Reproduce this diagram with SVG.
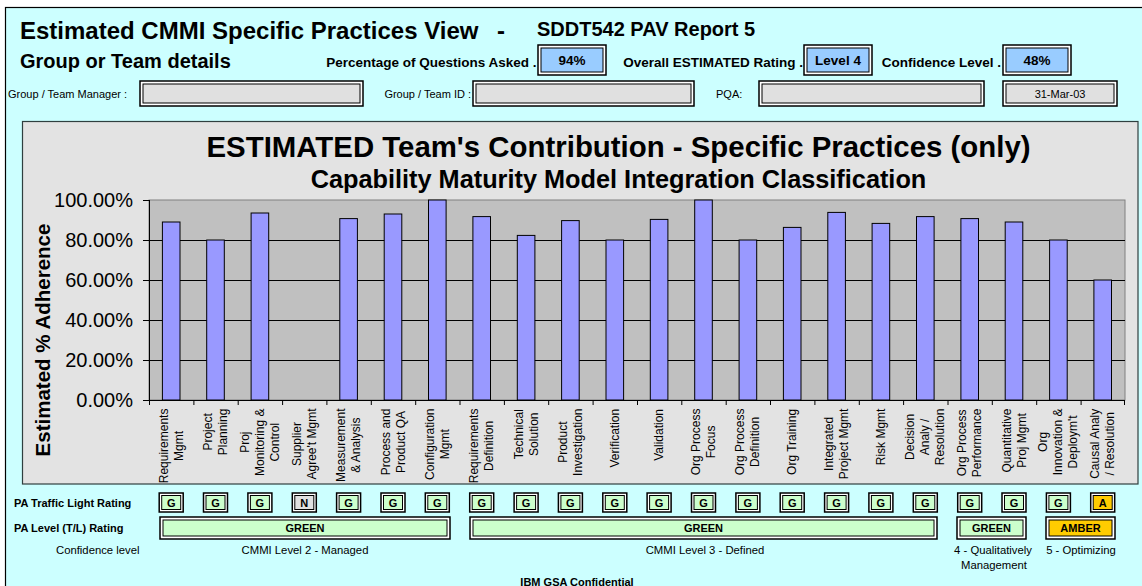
<svg xmlns="http://www.w3.org/2000/svg" width="1142" height="586" viewBox="0 0 1142 586">
<style>
text{font-family:"Liberation Sans",Arial,sans-serif;fill:#000}
.b{font-weight:bold}
.h1{font-size:24px;font-weight:bold}
.h2{font-size:20px;font-weight:bold}
.lab{font-size:13.5px;font-weight:bold}
.sm{font-size:11px}
.ct{font-size:11.3px}
.xl{font-size:12px;text-anchor:middle}
.yl{font-size:20px;text-anchor:end}
.mid{text-anchor:middle}
.end{text-anchor:end}
.ob{fill:#fff;stroke:#000;stroke-width:1.5}
.in{stroke:#000;stroke-width:1}
.gf{fill:#E0E0E0}
.bf{fill:#99CCFF}
.grn{fill:#CCFFCC}
.amb{fill:#FFCC00}
.gry{fill:#E0E0E0}
.bar{fill:#9999FF;stroke:#000;stroke-width:1}
.grid{stroke:#000;stroke-width:1}
.tk{stroke:#000;stroke-width:1}
.tl{font-size:11px;font-weight:bold;text-anchor:middle}
</style>
<rect x="0" y="0" width="1142" height="586" fill="#fff"/>
<rect x="5.5" y="7.5" width="1140" height="582" fill="#CCFFFF" stroke="#000" stroke-width="1.2"/>

<g id="header">
<text class="h1" x="20" y="38.5">Estimated CMMI Specific Practices View</text>
<text class="h1" x="497" y="38.5">-</text>
<text class="h2" x="537" y="36">SDDT542 PAV Report 5</text>
<text class="h2" x="20" y="67.5">Group or Team details</text>
</g>

<g id="pct-asked">
<text class="lab end" x="536.5" y="67">Percentage of Questions Asked .</text>
<rect class="ob" x="538" y="45" width="68" height="30"/>
<rect class="in bf" x="541" y="48" width="62" height="24"/>
<text class="lab mid" x="572" y="65">94%</text>
</g>
<g id="overall-rating">
<text class="lab end" x="803" y="67">Overall ESTIMATED Rating .</text>
<rect class="ob" x="804" y="45" width="68" height="30"/>
<rect class="in bf" x="807" y="48" width="62" height="24"/>
<text class="lab mid" x="838" y="65">Level 4</text>
</g>
<g id="confidence">
<text class="lab end" x="1001" y="67">Confidence Level .</text>
<rect class="ob" x="1003" y="45" width="68" height="30"/>
<rect class="in bf" x="1006" y="48" width="62" height="24"/>
<text class="lab mid" x="1037" y="65">48%</text>
</g>

<g id="manager">
<text class="sm" x="8" y="98">Group / Team Manager :</text>
<rect class="ob" x="140" y="81" width="223" height="25"/>
<rect class="in gf" x="143" y="84" width="217" height="19"/>
</g>
<g id="team-id">
<text class="sm end" x="471" y="98">Group / Team ID :</text>
<rect class="ob" x="473" y="81" width="221" height="25"/>
<rect class="in gf" x="476" y="84" width="215" height="19"/>
</g>
<g id="pqa">
<text class="sm" x="716" y="98">PQA:</text>
<rect class="ob" x="759" y="81" width="225" height="25"/>
<rect class="in gf" x="762" y="84" width="219" height="19"/>
</g>
<g id="date">
<rect class="ob" x="1003" y="81" width="114" height="25"/>
<rect class="in gf" x="1006" y="84" width="108" height="19"/>
<text class="sm mid" x="1060" y="98">31-Mar-03</text>
</g>

<g id="chart">
<rect x="22.5" y="121.5" width="1115.5" height="362.5" fill="#E3E3E3" stroke="#2F3F3F" stroke-width="1.2"/>
<text class="b mid" x="618.5" y="157" font-size="29.4">ESTIMATED Team's Contribution - Specific Practices (only)</text>
<text class="b mid" x="618.5" y="188" font-size="25.3">Capability Maturity Model Integration Classification</text>
<rect x="149" y="200" width="976" height="200" fill="#C0C0C0" stroke="#808080" stroke-width="1"/>
<g class="grid">
<line x1="149" y1="240.5" x2="1125" y2="240.5"/>
<line x1="149" y1="280.5" x2="1125" y2="280.5"/>
<line x1="149" y1="320.5" x2="1125" y2="320.5"/>
<line x1="149" y1="360.5" x2="1125" y2="360.5"/>
</g>
<g id="bars">
<rect class="bar" x="162.4" y="222" width="17.6" height="178"/>
<rect class="bar" x="206.7" y="240" width="17.6" height="160"/>
<rect class="bar" x="251.1" y="213" width="17.6" height="187"/>
<rect class="bar" x="339.8" y="218.6" width="17.6" height="181.4"/>
<rect class="bar" x="384.2" y="214" width="17.6" height="186"/>
<rect class="bar" x="428.5" y="200" width="17.6" height="200"/>
<rect class="bar" x="472.9" y="216.6" width="17.6" height="183.4"/>
<rect class="bar" x="517.3" y="235.4" width="17.6" height="164.6"/>
<rect class="bar" x="561.6" y="220.6" width="17.6" height="179.4"/>
<rect class="bar" x="606" y="240" width="17.6" height="160"/>
<rect class="bar" x="650.3" y="219.4" width="17.6" height="180.6"/>
<rect class="bar" x="694.7" y="200" width="17.6" height="200"/>
<rect class="bar" x="739.1" y="240" width="17.6" height="160"/>
<rect class="bar" x="783.4" y="227.4" width="17.6" height="172.6"/>
<rect class="bar" x="827.8" y="212.4" width="17.6" height="187.6"/>
<rect class="bar" x="872.1" y="223.4" width="17.6" height="176.6"/>
<rect class="bar" x="916.5" y="216.6" width="17.6" height="183.4"/>
<rect class="bar" x="960.9" y="218.6" width="17.6" height="181.4"/>
<rect class="bar" x="1005.2" y="222" width="17.6" height="178"/>
<rect class="bar" x="1049.6" y="240" width="17.6" height="160"/>
<rect class="bar" x="1093.9" y="280" width="17.6" height="120"/>
</g>
<g class="tk">
<line x1="149.5" y1="200" x2="149.5" y2="400"/>
<line x1="149" y1="400.5" x2="1125" y2="400.5"/>
<line x1="143" y1="200.5" x2="149" y2="200.5"/>
<line x1="143" y1="240.5" x2="149" y2="240.5"/>
<line x1="143" y1="280.5" x2="149" y2="280.5"/>
<line x1="143" y1="320.5" x2="149" y2="320.5"/>
<line x1="143" y1="360.5" x2="149" y2="360.5"/>
<line x1="143" y1="400.5" x2="149" y2="400.5"/>
<path d="M149.5 400v5M193.9 400v5M238.2 400v5M282.6 400v5M326.9 400v5M371.3 400v5M415.7 400v5M460 400v5M504.4 400v5M548.7 400v5M593.1 400v5M637.5 400v5M681.8 400v5M726.2 400v5M770.5 400v5M814.9 400v5M859.3 400v5M903.6 400v5M948 400v5M992.3 400v5M1036.7 400v5M1081.1 400v5M1124.5 400v5" fill="none"/>
</g>
<g id="y-labels">
<text class="yl" x="133" y="207.2">100.00%</text>
<text class="yl" x="133" y="247.2">80.00%</text>
<text class="yl" x="133" y="287.2">60.00%</text>
<text class="yl" x="133" y="327.2">40.00%</text>
<text class="yl" x="133" y="367.2">20.00%</text>
<text class="yl" x="133" y="407.2">0.00%</text>
</g>
<text class="b mid" font-size="20.5" transform="translate(49.5,340) rotate(-90)">Estimated % Adherence</text>
<g id="x-labels">
<text class="xl" transform="translate(167.7,445.9) rotate(-90)">Requirements</text>
<text class="xl" transform="translate(182.7,445.9) rotate(-90)">Mgmt</text>
<text class="xl" transform="translate(212,431.9) rotate(-90)">Project</text>
<text class="xl" transform="translate(227,431.9) rotate(-90)">Planning</text>
<text class="xl" transform="translate(248.9,442.2) rotate(-90)">Proj</text>
<text class="xl" transform="translate(263.9,442.2) rotate(-90)">Monitoring &amp;</text>
<text class="xl" transform="translate(278.9,442.2) rotate(-90)">Control</text>
<text class="xl" transform="translate(300.8,444) rotate(-90)">Supplier</text>
<text class="xl" transform="translate(315.8,444) rotate(-90)">Agree't Mgmt</text>
<text class="xl" transform="translate(345.1,445.2) rotate(-90)">Measurement</text>
<text class="xl" transform="translate(360.1,445.2) rotate(-90)">&amp; Analysis</text>
<text class="xl" transform="translate(389.5,441.9) rotate(-90)">Process and</text>
<text class="xl" transform="translate(404.5,441.9) rotate(-90)">Product QA</text>
<text class="xl" transform="translate(433.8,444.2) rotate(-90)">Configuration</text>
<text class="xl" transform="translate(448.8,444.2) rotate(-90)">Mgmt</text>
<text class="xl" transform="translate(478.2,445.9) rotate(-90)">Requirements</text>
<text class="xl" transform="translate(493.2,445.9) rotate(-90)">Definition</text>
<text class="xl" transform="translate(522.6,434.2) rotate(-90)">Technical</text>
<text class="xl" transform="translate(537.6,434.2) rotate(-90)">Solution</text>
<text class="xl" transform="translate(566.9,442.2) rotate(-90)">Product</text>
<text class="xl" transform="translate(581.9,442.2) rotate(-90)">Investigation</text>
<text class="xl" transform="translate(618.8,438.2) rotate(-90)">Verification</text>
<text class="xl" transform="translate(663.1,434.9) rotate(-90)">Validation</text>
<text class="xl" transform="translate(700,441.9) rotate(-90)">Org Process</text>
<text class="xl" transform="translate(715,441.9) rotate(-90)">Focus</text>
<text class="xl" transform="translate(744.4,441.9) rotate(-90)">Org Process</text>
<text class="xl" transform="translate(759.4,441.9) rotate(-90)">Definition</text>
<text class="xl" transform="translate(796.2,441.9) rotate(-90)">Org Training</text>
<text class="xl" transform="translate(833.1,443.9) rotate(-90)">Integrated</text>
<text class="xl" transform="translate(848.1,443.9) rotate(-90)">Project Mgmt</text>
<text class="xl" transform="translate(884.9,436.9) rotate(-90)">Risk Mgmt</text>
<text class="xl" transform="translate(914.3,436.9) rotate(-90)">Decision</text>
<text class="xl" transform="translate(929.3,436.9) rotate(-90)">Analy /</text>
<text class="xl" transform="translate(944.3,436.9) rotate(-90)">Resolution</text>
<text class="xl" transform="translate(966.2,442.9) rotate(-90)">Org Process</text>
<text class="xl" transform="translate(981.2,442.9) rotate(-90)">Performance</text>
<text class="xl" transform="translate(1010.5,440.5) rotate(-90)">Quantitative</text>
<text class="xl" transform="translate(1025.5,440.5) rotate(-90)">Proj Mgmt</text>
<text class="xl" transform="translate(1047.4,441.9) rotate(-90)">Org</text>
<text class="xl" transform="translate(1062.4,441.9) rotate(-90)">Innovation &amp;</text>
<text class="xl" transform="translate(1077.4,441.9) rotate(-90)">Deploym't</text>
<text class="xl" transform="translate(1099.2,443.8) rotate(-90)">Causal Analy</text>
<text class="xl" transform="translate(1114.2,443.8) rotate(-90)">/ Resolution</text>
</g>
</g>

<g id="traffic-lights">
<text class="b" font-size="11" x="14" y="506.5">PA Traffic Light Rating</text>
<g id="tl-boxes">
<rect class="ob" x="159.2" y="493" width="24" height="19"/><rect class="in grn" x="161.7" y="495.5" width="19" height="14"/><text class="tl" x="171.2" y="506.5">G</text>
<rect class="ob" x="203.5" y="493" width="24" height="19"/><rect class="in grn" x="206" y="495.5" width="19" height="14"/><text class="tl" x="215.5" y="506.5">G</text>
<rect class="ob" x="247.9" y="493" width="24" height="19"/><rect class="in grn" x="250.4" y="495.5" width="19" height="14"/><text class="tl" x="259.9" y="506.5">G</text>
<rect class="ob" x="292.3" y="493" width="24" height="19"/><rect class="in gry" x="294.8" y="495.5" width="19" height="14"/><text class="tl" x="304.3" y="506.5" font-weight="normal">N</text>
<rect class="ob" x="336.6" y="493" width="24" height="19"/><rect class="in grn" x="339.1" y="495.5" width="19" height="14"/><text class="tl" x="348.6" y="506.5">G</text>
<rect class="ob" x="381" y="493" width="24" height="19"/><rect class="in grn" x="383.5" y="495.5" width="19" height="14"/><text class="tl" x="393" y="506.5">G</text>
<rect class="ob" x="425.3" y="493" width="24" height="19"/><rect class="in grn" x="427.8" y="495.5" width="19" height="14"/><text class="tl" x="437.3" y="506.5">G</text>
<rect class="ob" x="469.7" y="493" width="24" height="19"/><rect class="in grn" x="472.2" y="495.5" width="19" height="14"/><text class="tl" x="481.7" y="506.5">G</text>
<rect class="ob" x="514.1" y="493" width="24" height="19"/><rect class="in grn" x="516.6" y="495.5" width="19" height="14"/><text class="tl" x="526.1" y="506.5">G</text>
<rect class="ob" x="558.4" y="493" width="24" height="19"/><rect class="in grn" x="560.9" y="495.5" width="19" height="14"/><text class="tl" x="570.4" y="506.5">G</text>
<rect class="ob" x="602.8" y="493" width="24" height="19"/><rect class="in grn" x="605.3" y="495.5" width="19" height="14"/><text class="tl" x="614.8" y="506.5">G</text>
<rect class="ob" x="647.1" y="493" width="24" height="19"/><rect class="in grn" x="649.6" y="495.5" width="19" height="14"/><text class="tl" x="659.1" y="506.5">G</text>
<rect class="ob" x="691.5" y="493" width="24" height="19"/><rect class="in grn" x="694" y="495.5" width="19" height="14"/><text class="tl" x="703.5" y="506.5">G</text>
<rect class="ob" x="735.9" y="493" width="24" height="19"/><rect class="in grn" x="738.4" y="495.5" width="19" height="14"/><text class="tl" x="747.9" y="506.5">G</text>
<rect class="ob" x="780.2" y="493" width="24" height="19"/><rect class="in grn" x="782.7" y="495.5" width="19" height="14"/><text class="tl" x="792.2" y="506.5">G</text>
<rect class="ob" x="824.6" y="493" width="24" height="19"/><rect class="in grn" x="827.1" y="495.5" width="19" height="14"/><text class="tl" x="836.6" y="506.5">G</text>
<rect class="ob" x="868.9" y="493" width="24" height="19"/><rect class="in grn" x="871.4" y="495.5" width="19" height="14"/><text class="tl" x="880.9" y="506.5">G</text>
<rect class="ob" x="913.3" y="493" width="24" height="19"/><rect class="in grn" x="915.8" y="495.5" width="19" height="14"/><text class="tl" x="925.3" y="506.5">G</text>
<rect class="ob" x="957.7" y="493" width="24" height="19"/><rect class="in grn" x="960.2" y="495.5" width="19" height="14"/><text class="tl" x="969.7" y="506.5">G</text>
<rect class="ob" x="1002" y="493" width="24" height="19"/><rect class="in grn" x="1004.5" y="495.5" width="19" height="14"/><text class="tl" x="1014" y="506.5">G</text>
<rect class="ob" x="1046.4" y="493" width="24" height="19"/><rect class="in grn" x="1048.9" y="495.5" width="19" height="14"/><text class="tl" x="1058.4" y="506.5">G</text>
<rect class="ob" x="1090.7" y="493" width="24" height="19"/><rect class="in amb" x="1093.2" y="495.5" width="19" height="14"/><text class="tl" x="1102.7" y="506.5">A</text>
</g>
</g>

<g id="level-ratings">
<text class="b" font-size="11" x="14" y="532">PA Level (T/L) Rating</text>
<g id="level2">
<rect class="ob" x="160" y="517" width="290" height="22"/><rect class="in grn" x="163" y="520" width="284" height="16"/>
<text class="tl" x="305" y="531.5">GREEN</text>
</g>
<g id="level3">
<rect class="ob" x="470" y="517" width="467" height="22"/><rect class="in grn" x="473" y="520" width="461" height="16"/>
<text class="tl" x="703.5" y="531.5">GREEN</text>
</g>
<g id="level4">
<rect class="ob" x="957" y="517" width="69" height="22"/><rect class="in grn" x="960" y="520" width="63" height="16"/>
<text class="tl" x="991.5" y="531.5">GREEN</text>
</g>
<g id="level5">
<rect class="ob" x="1046" y="517" width="69" height="22"/><rect class="in amb" x="1049" y="520" width="63" height="16"/>
<text class="tl" x="1080.5" y="531.5">AMBER</text>
</g>
</g>

<g id="footer">
<text class="ct" x="56" y="554">Confidence level</text>
<text class="ct mid" x="305" y="554">CMMI Level 2 - Managed</text>
<text class="ct mid" x="705" y="554">CMMI Level 3 - Defined</text>
<text class="ct mid" x="993" y="554">4 - Qualitatively</text>
<text class="ct mid" x="994" y="569">Management</text>
<text class="ct mid" x="1081" y="554">5 - Optimizing</text>
<text class="b mid" font-size="11" x="577" y="586">IBM GSA Confidential</text>
</g>
<g id="connectors"/>
</svg>
